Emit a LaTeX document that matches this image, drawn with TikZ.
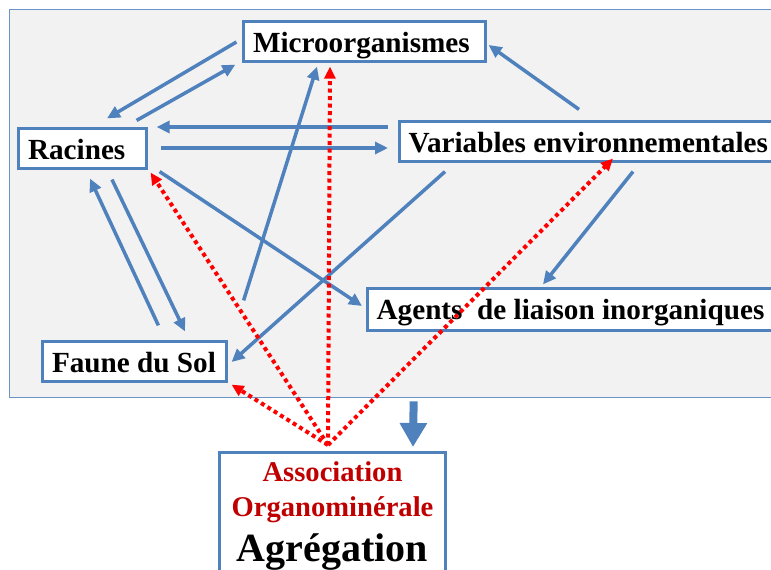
\documentclass[tikz,border=0pt]{standalone}
\usepackage{fontspec}
\setmainfont{Liberation Serif}
\usetikzlibrary{arrows.meta}
\definecolor{bl}{HTML}{4F81BD}
\definecolor{pg}{HTML}{F2F2F2}
\definecolor{dred}{HTML}{C00000}
\newcommand\leftbox[2]{\makebox[#1][l]{#2}}
\begin{document}
\begin{tikzpicture}[x=1pt,y=-1pt,
  box/.style={draw=bl, line width=3.2pt, fill=white, inner ysep=0pt, inner xsep=9.5pt,
    text height=25pt, text depth=3pt, font=\fontsize{29.2}{31}\selectfont\bfseries},
  lbl/.style={anchor=base, inner sep=0pt, font=\fontsize{28.6}{31}\selectfont\bfseries},
  ar/.style={draw=bl, line width=3.5pt, -{Triangle[length=13pt,width=12pt]}},
  rd/.style={draw=red, line width=4pt, dash pattern=on 4pt off 3.5pt, -{Triangle[length=12pt,width=11pt]}}]
\useasboundingbox (0,0) rectangle (771,570);
\node[draw=bl!85, line width=1.3pt, fill=pg, inner sep=0pt, minimum width=772.5pt, minimum height=388pt, anchor=north west] (panel) at (8.5,8.5) {};
\node[box, minimum height=40pt] (micro) at (364.5,41.5) {\leftbox{223pt}{Microorganismes}};
\node[box, minimum height=40pt] (racines) at (82.5,148.5) {\leftbox{109pt}{Racines}};
\node[box, minimum height=40pt, anchor=west] (var) at (397.5,141.5) {\leftbox{361pt}{Variables environnementales}};
\node[box, minimum height=42pt, anchor=west, text height=22pt] (agents) at (365.5,309.5) {\leftbox{392pt}{Agents\ \ de liaison inorganiques}};
\node[box, minimum height=40pt] (faune) at (134.5,361.5) {\leftbox{165pt}{Faune du Sol}};
\node[box, minimum width=226pt, minimum height=150pt, anchor=north, text height=0pt, text depth=0pt] (bottom) at (332.5,450.5) {};
\node[lbl, text=dred] (t1) at (332.5,481) {Association};
\node[lbl, text=dred] (t2) at (332.5,516) {Organominérale};
\node[lbl, font=\fontsize{40}{44}\selectfont\bfseries] (t3) at (332.5,561) {Agrégation};
% blue arrows
\draw[ar] ([shift={(-5.5,0.5)}]micro.west) -- ([shift={(24.5,-8.5)}]racines.north);
\draw[ar] ([shift={(-11.5,-6.5)}]racines.north east) -- ([shift={(-6.5,1.5)}]micro.south west);
\draw[ar] ([shift={(-9.5,-14.5)}]var.west) -- ([shift={(8.5,-21.5)}]racines.east);
\draw[ar] ([shift={(12.5,-0.5)}]racines.east) -- ([shift={(-9.5,6.5)}]var.west);
\draw[ar] ([shift={(181.5,-10.5)}]var.north west) -- ([shift={(1.5,3.5)}]micro.east);
\draw[ar] ([shift={(11.5,1.5)}]racines.south east) -- ([shift={(-3.5,-3.5)}]agents.west);
\draw[ar] ([shift={(15.5,-39.5)}]faune.north east) -- ([shift={(-47.5,3.5)}]micro.south);
\draw[ar] ([shift={(47.5,8.5)}]var.south west) -- ([shift={(3.5,0.5)}]faune.east);
\draw[ar] ([shift={(235.5,8.5)}]var.south west) -- ([shift={(177.5,-2.5)}]agents.north west);
\draw[ar] ([shift={(117.5,-14.5)}]faune.north west) -- ([shift={(7.5,8.5)}]racines.south);
\draw[ar] ([shift={(29.5,9.5)}]racines.south) -- ([shift={(50.5,-8.5)}]faune.north);
\draw[bl, line width=8pt, -{Triangle[length=24pt,width=26pt]}] ([shift={(18.25,3.5)}]panel.south) -- ([shift={(80.5,-3.5)}]bottom.north);
% red dotted arrows
\coordinate (o) at ([shift={(-4.5,-5.5)}]bottom.north);
\draw[rd] (o) -- ([shift={(-34.5,3.5)}]micro.south);
\draw[rd] (o) -- ([shift={(2.5,2.5)}]racines.south east);
\draw[rd] (o) -- ([shift={(215.5,-4.5)}]var.south west);
\draw[rd] (o) -- ([shift={(3.5,1.5)}]faune.south east);
\end{tikzpicture}
\end{document}
